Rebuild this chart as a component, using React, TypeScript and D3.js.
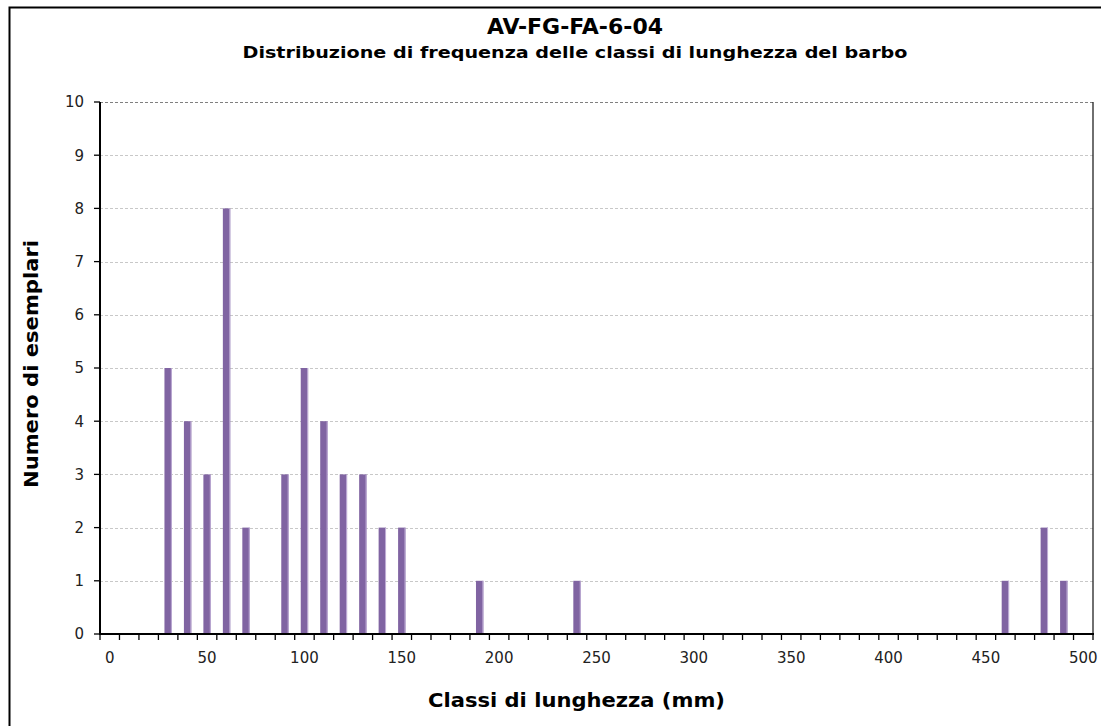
import React from "react";
import * as d3 from "d3";

const categories: number[] = [
  0, 10, 20, 30, 40, 50, 60, 70, 80, 90,
  100, 110, 120, 130, 140, 150, 160, 170, 180, 190,
  200, 210, 220, 230, 240, 250, 260, 270, 280, 290,
  300, 310, 320, 330, 340, 350, 360, 370, 380, 390,
  400, 410, 420, 430, 440, 450, 460, 470, 480, 490,
  500,
];
const counts: number[] = [
  0, 0, 0, 5, 4, 3, 8, 2, 0, 3,
  5, 4, 3, 3, 2, 2, 0, 0, 0, 1,
  0, 0, 0, 0, 1, 0, 0, 0, 0, 0,
  0, 0, 0, 0, 0, 0, 0, 0, 0, 0,
  0, 0, 0, 0, 0, 0, 1, 0, 2, 1,
  0,
];
const xTickLabels: number[] = [0, 50, 100, 150, 200, 250, 300, 350, 400, 450, 500];
const yTicks: number[] = [0, 1, 2, 3, 4, 5, 6, 7, 8, 9, 10];

const title = "AV-FG-FA-6-04";
const subtitle = "Distribuzione di frequenza delle classi di lunghezza del barbo";
const xTitle = "Classi di lunghezza (mm)";
const yTitle = "Numero di esemplari";

const W = 1101;
const H = 726;
const left = 100;
const right = 1093;
const top = 102;
const bottom = 634;
const font = "'DejaVu Sans', Verdana, sans-serif";

export default function App() {
  const x = d3
    .scaleBand<number>()
    .domain(categories)
    .range([left, right])
    .paddingInner(0.62)
    .paddingOuter(0.31);
  const y = d3.scaleLinear().domain([0, 10]).range([bottom, top]);
  const step = x.step();
  const bw = x.bandwidth();

  return (
    <svg
      width={W}
      height={H}
      style={{ position: "absolute", left: 0, top: 0, background: "#fff" }}
      fontFamily={font}
    >
      <rect x={0} y={0} width={W} height={H} fill="#fff" />
      <rect x={9.5} y={7.5} width={1300} height={900} fill="none" stroke="#000" strokeWidth={2} />

      <text x={575} y={34} textAnchor="middle" fontSize={22} fontWeight="bold" fill="#000">
        {title}
      </text>
      <text
        x={575}
        y={58}
        textAnchor="middle"
        fontSize={15}
        fontWeight="bold"
        fill="#000"
        textLength={665}
        lengthAdjust="spacingAndGlyphs"
      >
        {subtitle}
      </text>

      {/* gridlines */}
      {yTicks
        .filter((t) => t > 0)
        .map((t) => (
          <line
            key={"g" + t}
            x1={left}
            x2={right}
            y1={Math.round(y(t)) + 0.5}
            y2={Math.round(y(t)) + 0.5}
            stroke={t === 10 ? "#7f7f7f" : "#c8c8c8"}
            strokeWidth={1}
            strokeDasharray="3,2"
          />
        ))}
      <line x1={right} x2={right} y1={top} y2={bottom} stroke="#222" strokeWidth={1.3} />

      {/* bars */}
      {categories.map((c, i) =>
        counts[i] > 0 ? (
          <g key={"b" + c}>
            <rect
              x={x(c)!}
              y={y(counts[i])}
              width={bw}
              height={bottom - y(counts[i])}
              fill="#8064A2"
            />
            <rect
              x={x(c)! + bw - 1}
              y={y(counts[i])}
              width={1}
              height={bottom - y(counts[i])}
              fill="#bfaed6"
            />
          </g>
        ) : null
      )}

      {/* y axis */}
      <line x1={left} x2={left} y1={top} y2={bottom + 1} stroke="#000" strokeWidth={2} />
      {yTicks.map((t) => (
        <g key={"y" + t}>
          <line x1={left - 6} x2={left} y1={y(t)} y2={y(t)} stroke="#000" strokeWidth={1.3} />
          <text x={84} y={y(t)} dy="0.36em" textAnchor="end" fontSize={15} fill="#222">
            {t}
          </text>
        </g>
      ))}

      {/* x axis */}
      <line x1={left - 1} x2={right + 1} y1={bottom} y2={bottom} stroke="#000" strokeWidth={2} />
      {categories.concat([NaN]).map((c, i) => (
        <line
          key={"t" + i}
          x1={left + i * step}
          x2={left + i * step}
          y1={bottom}
          y2={bottom + 6}
          stroke="#000"
          strokeWidth={1.3}
        />
      ))}
      {xTickLabels.map((v) => (
        <text
          key={"xl" + v}
          x={x(v)! + bw / 2}
          y={663}
          textAnchor="middle"
          fontSize={15}
          fill="#222"
        >
          {v}
        </text>
      ))}

      <text
        x={576.5}
        y={707}
        textAnchor="middle"
        fontSize={19}
        fontWeight="bold"
        fill="#000"
        textLength={297}
        lengthAdjust="spacingAndGlyphs"
      >
        {xTitle}
      </text>
      <text
        transform={`translate(38,364) rotate(-90)`}
        textAnchor="middle"
        fontSize={19}
        fontWeight="bold"
        fill="#000"
        textLength={248}
        lengthAdjust="spacingAndGlyphs"
      >
        {yTitle}
      </text>
    </svg>
  );
}
